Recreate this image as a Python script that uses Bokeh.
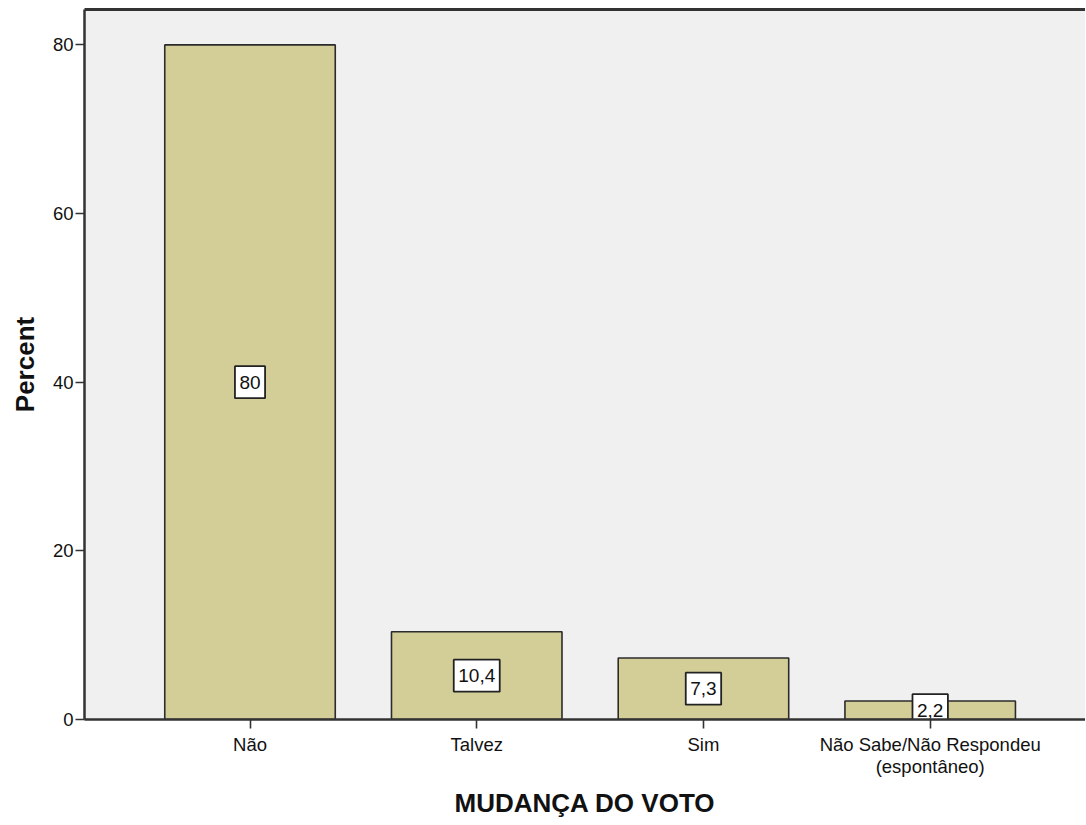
from bokeh.plotting import figure
from bokeh.models import ColumnDataSource, FixedTicker, Range1d, LinearAxis
from bokeh.core.properties import value
from bokeh.embed import file_html
from bokeh.resources import INLINE

categories = ["Não", "Talvez", "Sim", "Não Sabe/Não Respondeu\n(espontâneo)"]
percent = [80.0, 10.4, 7.3, 2.2]
value_labels = ["80", "10,4", "7,3", "2,2"]

FONT = "Liberation Sans"
LABEL_PX = 19


def text_px(s):
    return sum((0.278 if ch in ",." else 0.556) for ch in s) * LABEL_PX


xpos = list(range(len(categories)))
src = ColumnDataSource(dict(
    x=xpos,
    top=percent,
    mid=[v / 2 for v in percent],
    lab=value_labels,
    bw=[text_px(s) + 9 for s in value_labels],
))

p = figure(width=1085, height=820, output_backend="svg", toolbar_location=None,
           x_range=Range1d(-0.73, 3.685), y_range=Range1d(0, 84.2),
           min_border_left=84, min_border_right=0, min_border_top=9, min_border_bottom=0)
p.background_fill_color = "#F0F0F0"
p.border_fill_color = "white"
p.outline_line_color = None
p.xgrid.visible = False
p.ygrid.visible = False

p.vbar(x="x", top="top", width=0.752, source=src, fill_color="#D3CE97",
       line_color="#2b2b2b", line_width=1.6)

p.rect(x="x", y="mid", width="bw", height=32, width_units="screen", height_units="screen",
       source=src, fill_color="white", line_color="#222222", line_width=1.8)
p.text(x="x", y="mid", text="lab", source=src, text_align="center", text_baseline="middle",
       text_font=value(FONT), text_font_size=f"{LABEL_PX}px", text_color="#111111")

xax = p.below[0]
yax = p.left[0]
xax.ticker = FixedTicker(ticks=xpos)
xax.major_label_overrides = {i: c for i, c in enumerate(categories)}
yax.ticker = FixedTicker(ticks=[0, 20, 40, 60, 80])
for ax in (xax, yax):
    ax.minor_tick_line_color = None
    ax.major_tick_out = 9
    ax.major_tick_in = 0
    ax.axis_line_color = "#333333"
    ax.axis_line_width = 2.5
    ax.major_tick_line_color = "#333333"
    ax.major_tick_line_width = 1.6
    ax.major_label_text_font = FONT
    ax.major_label_text_font_size = "18.5px"
    ax.major_label_text_color = "#111111"
    ax.major_label_text_line_height = 1.05
    ax.axis_label_text_font = FONT
    ax.axis_label_text_font_style = "bold"
    ax.axis_label_text_font_size = "26px"
    ax.axis_label_text_color = "#111111"
xax.major_label_standoff = 5
yax.major_label_standoff = 2
xax.axis_label = "MUDANÇA DO VOTO"
yax.axis_label = "Percent"
xax.axis_label_standoff = 8
yax.axis_label_standoff = 10

top_axis = LinearAxis(ticker=FixedTicker(ticks=[]), major_tick_out=0, major_tick_in=0,
                      major_label_standoff=0, major_label_text_font_size="0px",
                      axis_line_color="#333333", axis_line_width=3,
                      minor_tick_line_color=None)
p.add_layout(top_axis, "above")

open("out.html", "w").write(file_html(p, INLINE))
